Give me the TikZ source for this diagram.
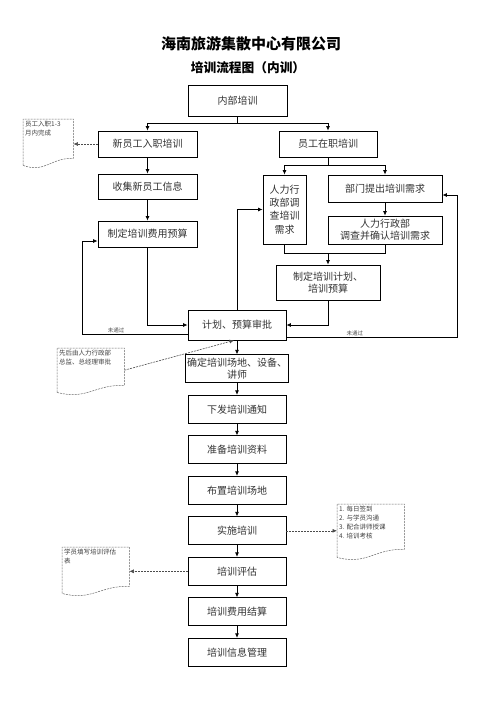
\documentclass[tikz,border=0pt]{standalone}
\usepackage{fontspec}
\setmainfont{Noto Sans CJK SC}
\usepackage{xcolor}
\usepackage{tikz}
\usetikzlibrary{arrows.meta,positioning}

\begin{document}
\begin{tikzpicture}[
  x=1pt,y=1pt,
  node distance=11.7pt,
  box/.style={draw,line width=0.8pt,align=center,minimum width=98pt,
    minimum height=28pt,inner sep=1.5pt,text=black!80,
    font=\fontsize{10}{12}\selectfont},
  memo/.style={inner sep=2pt,anchor=north west,text=black!75,
    font=\fontsize{6.5}{9}\selectfont},
  memoline/.style={draw=black!60,line width=0.5pt,dash pattern=on 2pt off 1pt},
  arrow/.style={-{Latex[length=4.5pt,width=4pt]},line width=0.8pt},
  dasharrow/.style={-{Latex[length=4.5pt,width=4pt]},line width=0.6pt,
    draw=black!70,dash pattern=on 2pt off 1pt},
  fail/.style={font=\fontsize{5.5}{6}\selectfont,text=black!70,inner sep=1pt}
]
\useasboundingbox (0,0) rectangle (496,-702);

% title
\node[font=\fontsize{15}{18}\selectfont\bfseries] (title) at (251,-44)
  {海南旅游集散中心有限公司};
\node[font=\fontsize{12.7}{15}\selectfont\bfseries] (subtitle) at (248,-68)
  {培训流程图（内训）};

% upper part
\node[box,minimum width=99pt,minimum height=31pt] (inhouse) at (237.5,-100.5) {内部培训};
\node[box,minimum width=99pt,minimum height=26pt] (newhire) at (147.5,-144) {新员工入职培训};
\node[box,minimum height=26pt] (onjob) at (328,-144) {员工在职培训};
\node[box,minimum width=99pt,minimum height=25pt] (collect) at (147.5,-186.5) {收集新员工信息};
\node[box,minimum width=99pt,minimum height=26pt] (costbudget) at (147.5,-234) {制定培训费用预算};
\node[box,minimum width=43pt,minimum height=69pt,
  font=\fontsize{10}{13.3}\selectfont] (hrsurvey) at (284.5,-209.5)
  {人力行\\政部调\\查培训\\需求};
\node[box,minimum width=114pt,minimum height=27pt] (deptneed) at (385,-188.5) {部门提出培训需求};
\node[box,minimum width=114pt,minimum height=28pt] (hrconfirm) at (385,-230)
  {人力行政部\\调查并确认培训需求};
\node[box,minimum width=104pt,minimum height=35pt] (plan) at (328,-282.5)
  {制定培训计划、\\培训预算};
\node[box,minimum height=30pt] (approve) at (237,-325) {计划、预算审批};

% lower chain
\node[box,below=14pt of approve] (venue) {确定培训场地、设备、\\讲师};
\node[box,below=of venue] (notice) {下发培训通知};
\node[box,below=of notice] (material) {准备培训资料};
\node[box,below=of material] (setup) {布置培训场地};
\node[box,below=of setup] (deliver) {实施培训};
\node[box,below=of deliver] (assess) {培训评估};
\node[box,below=of assess] (settle) {培训费用结算};
\node[box,below=of settle] (records) {培训信息管理};

% memos
\node[memo] (memoterm) at (23,-119)
  {\parbox[t][42pt][t]{46pt}{员工入职1-3\\月内完成}};
\node[memo] (memoapprove) at (57,-348)
  {\parbox[t][40pt][t]{63pt}{先后由人力行政部\\总监、总经理审批}};
\node[memo] (memotasks) at (337,-504)
  {\parbox[t][49pt][t]{63pt}{1. 每日签到\\2. 与学员沟通\\3. 配合讲师授课\\4. 培训考核}};
\node[memo] (memoform) at (62,-547)
  {\parbox[t][42pt][t]{63pt}{学员填写培训评估\\表}};

\draw[memoline] (memoterm.south west) -- (memoterm.north west) -- (memoterm.north east)
  -- ([yshift=7pt]memoterm.south east) .. controls +(-22pt,1pt) and +(22pt,-8pt) .. (memoterm.south west);
\draw[memoline] (memoapprove.south west) -- (memoapprove.north west) -- (memoapprove.north east)
  -- ([yshift=7pt]memoapprove.south east) .. controls +(-30pt,1pt) and +(30pt,-8pt) .. (memoapprove.south west);
\draw[memoline] (memotasks.south west) -- (memotasks.north west) -- (memotasks.north east)
  -- ([yshift=8pt]memotasks.south east) .. controls +(-30pt,1pt) and +(30pt,-8pt) .. (memotasks.south west);
\draw[memoline] (memoform.south west) -- (memoform.north west) -- (memoform.north east)
  -- ([yshift=7pt]memoform.south east) .. controls +(-30pt,1pt) and +(30pt,-8pt) .. (memoform.south west);

% connectors
\coordinate (splitA) at ([yshift=-7pt]inhouse.south);
\draw[line width=0.8pt] (inhouse.south) -- (splitA);
\draw[arrow] (splitA) -| (newhire.north);
\draw[arrow] (splitA) -| (onjob.north);
\draw[arrow] (newhire) -- (collect);
\draw[arrow] (collect) -- (costbudget);
\draw[dasharrow] (newhire.west) -- (newhire.west -| memoterm.east);

\coordinate (splitB) at ([yshift=-8pt]onjob.south);
\draw[line width=0.8pt] (onjob.south) -- (splitB);
\draw[arrow] (splitB) -| (hrsurvey.north);
\draw[arrow] (splitB) -| (deptneed.north);
\draw[arrow] (deptneed) -- (hrconfirm);

\coordinate (joinB) at ([yshift=11pt]plan.north);
\draw[line width=0.8pt] (hrsurvey.south) |- (hrconfirm.south |- joinB) -- (hrconfirm.south);
\draw[arrow] (joinB) -- (plan.north);

\draw[arrow] (costbudget.south) |- (approve.west);
\draw[arrow] (plan.south) |- (approve.east);
\draw[arrow] (approve.north) |- (hrsurvey.west);

% not approved
\draw[arrow] ([yshift=-9pt]approve.west) -| node[fail,pos=0.34,above] (failleft) {未通过}
  ([xshift=-15pt,yshift=-7pt]costbudget.west) -- ([yshift=-7pt]costbudget.west);
\draw[arrow] ([yshift=-12pt]approve.east) -| node[fail,pos=0.2,above] (failright) {未通过}
  ([xshift=15pt,yshift=-6.5pt]deptneed.east) -- ([yshift=-6.5pt]deptneed.east);

\draw[arrow] (approve) -- (venue);
\draw[arrow] (venue) -- (notice);
\draw[arrow] (notice) -- (material);
\draw[arrow] (material) -- (setup);
\draw[arrow] (setup) -- (deliver);
\draw[arrow] (deliver) -- (assess);
\draw[arrow] (assess) -- (settle);
\draw[arrow] (settle) -- (records);

\draw[dasharrow] (memoapprove.east) -- ([xshift=-3pt]approve.south);
\draw[dasharrow] (deliver.east) -- (deliver.east -| memotasks.west);
\draw[dasharrow] (assess.west) -- (assess.west -| memoform.east);
\end{tikzpicture}
\end{document}
